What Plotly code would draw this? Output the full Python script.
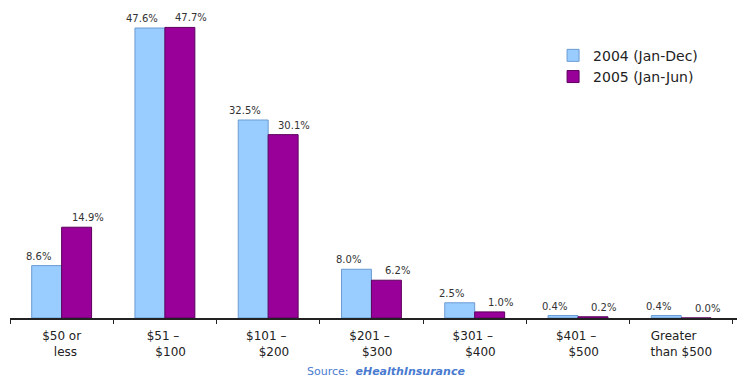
import plotly.graph_objects as go

# Monthly premium ranges and share of policies (%)
categories = ["$50 or<br>&nbsp;&nbsp;less", "$51 –&nbsp;<br>&nbsp;&nbsp;&nbsp;$100",
              "$101 –&nbsp;<br>&nbsp;&nbsp;&nbsp;$200", "$201 –&nbsp;<br>&nbsp;&nbsp;&nbsp;$300",
              "$301 –&nbsp;<br>&nbsp;&nbsp;&nbsp;$400", "$401 –&nbsp;<br>&nbsp;&nbsp;&nbsp;$500",
              "Greater&nbsp;&nbsp;&nbsp;&nbsp;<br>than $500"]
share_2004 = [8.6, 47.6, 32.5, 8.0, 2.5, 0.4, 0.4]
share_2005 = [14.9, 47.7, 30.1, 6.2, 1.0, 0.2, 0.0]
series_names = ["2004 (Jan-Dec)", "2005 (Jan-Jun)"]

label_font = dict(family="DejaVu Sans", size=10, color="#333333")

fig = go.Figure()
fig.add_trace(go.Bar(
    x=categories, y=share_2004, name=series_names[0],
    marker=dict(color="#99ccff", line=dict(color="#6b9bd1", width=1)),
))
fig.add_trace(go.Bar(
    x=categories, y=share_2005, name=series_names[1],
    marker=dict(color="#990099", line=dict(color="#5c005c", width=1)),
))

# Value labels above each bar, spread outward from the pair's centre
annotations = []
for values, dx in ((share_2004, -23), (share_2005, 26)):
    for cat, v in zip(categories, values):
        annotations.append(dict(
            x=cat, y=v, xref="x", yref="y", text=f"{v:.1f}%",
            xanchor="center", yanchor="bottom", xshift=dx, yshift=2,
            showarrow=False, font=label_font,
        ))

annotations.append(dict(
    text="Source:  <b><i>eHealthInsurance</i></b>",
    xref="paper", yref="paper", x=0.517, y=0, yshift=-53,
    xanchor="center", yanchor="middle", showarrow=False,
    font=dict(family="DejaVu Sans", size=11, color="#4a7bd0"),
))

fig.update_layout(
    width=737, height=380,
    margin=dict(l=10, r=0, t=0, b=62),
    paper_bgcolor="white", plot_bgcolor="white",
    barmode="group", bargap=0.42, bargroupgap=0,
    font=dict(family="DejaVu Sans", color="#222222"),
    showlegend=True,
    legend=dict(x=0.747, y=0.875, xanchor="left", yanchor="top",
                font=dict(size=14, color="#222222"),
                bgcolor="rgba(0,0,0,0)", itemwidth=30),
    xaxis=dict(
        range=[-0.5, 6.54], showline=True, linecolor="#222222", linewidth=2,
        ticks="outside", tickson="boundaries", ticklen=4, tickcolor="#222222",
        tickfont=dict(size=12, color="#222222"), showgrid=False,
        ticklabelstandoff=6,
    ),
    yaxis=dict(range=[0, 52.2], visible=False, showgrid=False),
    annotations=annotations,
)

fig.write_html("out.html")
